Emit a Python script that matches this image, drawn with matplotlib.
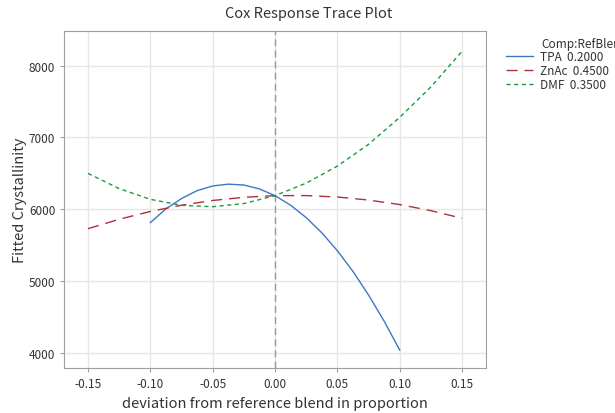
import matplotlib
matplotlib.use("Agg")
import matplotlib.pyplot as plt

plt.rcParams['font.family'] = ['Noto Sans CJK KR', 'DejaVu Sans']

# deviation from reference blend
tpa_x = [-0.1, -0.0875, -0.075, -0.0625, -0.05, -0.0375, -0.025, -0.0125, 0.0,
         0.0125, 0.025, 0.0375, 0.05, 0.0625, 0.075, 0.0875, 0.1]
tpa_y = [5815, 6005, 6150, 6260, 6325, 6350, 6338, 6284, 6190,
         6057, 5884, 5673, 5423, 5135, 4807, 4443, 4040]

dev_x = [-0.15, -0.125, -0.1, -0.075, -0.05, -0.025, 0.0,
         0.025, 0.05, 0.075, 0.1, 0.125, 0.15]
znac_y = [5730, 5861, 5970, 6057, 6123, 6167, 6190,
          6191, 6171, 6129, 6066, 5981, 5875]
dmf_y = [6500, 6288, 6139, 6055, 6036, 6080, 6190,
         6364, 6602, 6905, 7280, 7704, 8200]

labels = ['TPA  0.2000', 'ZnAc  0.4500', 'DMF  0.3500']
x_ticks = [-0.15, -0.10, -0.05, 0.00, 0.05, 0.10, 0.15]
y_ticks = [4000, 5000, 6000, 7000, 8000]

fig = plt.figure(figsize=(6.15, 4.14), dpi=100)
ax = fig.add_axes([0.1046, 0.1087, 0.6852, 0.8147])

ax.plot(tpa_x, tpa_y, color='#3b78c4', lw=1.0, label=labels[0])
ax.plot(dev_x, znac_y, color='#b03038', lw=1.0, dashes=(8, 5), label=labels[1])
ax.plot(dev_x, dmf_y, color='#1e9a3c', lw=1.0, dashes=(3, 2.5), label=labels[2])
ax.axvline(0, color='#999999', lw=1.0, dashes=(5, 3), zorder=1)

ax.set_xlim(-0.169, 0.169)
ax.set_ylim(3790, 8487)
ax.set_xticks(x_ticks)
ax.set_xticklabels(['%.2f' % t for t in x_ticks])
ax.set_yticks(y_ticks)
ax.grid(True, color='#e6e6e6', lw=1.0)
ax.set_axisbelow(True)
for s in ax.spines.values():
  s.set_color('#a0a0a0')
ax.tick_params(colors='#a0a0a0', labelcolor='#333333', labelsize=8.5, length=3)

ax.set_xlabel('deviation from reference blend in proportion', fontsize=10.5, color='#333333')
ax.set_ylabel('Fitted Crystallinity', fontsize=10.5, color='#333333', labelpad=1)
fig.text(0.502, 0.965, 'Cox Response Trace Plot', ha='center', va='center', fontsize=10.5, color='#333333')

fig.text(0.881, 0.893, 'Comp:RefBlend', ha='left', va='center', fontsize=8.5, color='#333333')
ax.legend(loc='upper left', bbox_to_anchor=(0.823, 0.877), bbox_transform=fig.transFigure,
          frameon=False, fontsize=8.5, handlelength=2.3, handletextpad=0.6,
          labelspacing=0.1, borderaxespad=0, borderpad=0, labelcolor='#333333')

fig.savefig('out.png', dpi=100)
